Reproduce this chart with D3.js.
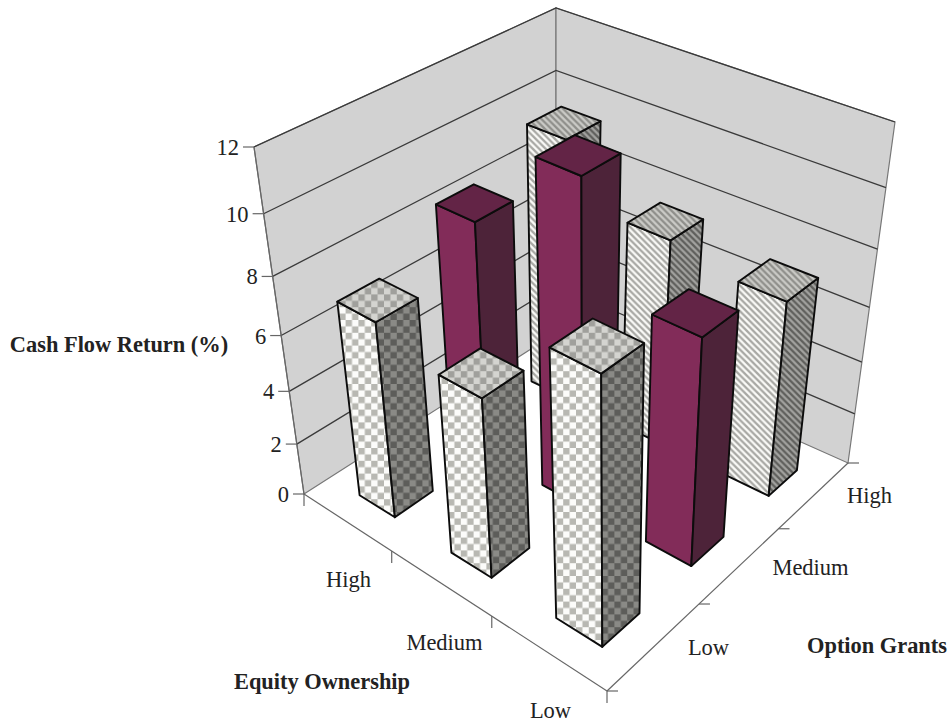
<!DOCTYPE html>
<html><head><meta charset="utf-8">
<style>html,body{margin:0;background:#fff}svg{display:block}text{font-family:"Liberation Serif","Times New Roman",serif;fill:#222}</style>
<script src="https://cdn.jsdelivr.net/npm/d3@7"></script></head>
<body><svg id="c" width="952" height="722"></svg>
<script>
// Chart values
const equityLevels = ["High", "Medium", "Low"];
const optionLevels = ["Low", "Medium", "High"];
const valueTicks = [0, 2, 4, 6, 8, 10, 12];
const lowOptionReturn = [7.2, 6.55, 9.35];
const mediumOptionReturn = [8.6, 11.5, 8.2];
const highOptionReturn = [9.65, 7.7, 7.25];

// Screen anchors of the 3-D box: [equity end, option end] on floor and ceiling planes
const floorFrame = [[304,494],[607,691],[848,463],[556,333]];
const ceilFrame  = [[254,147],[605,320],[895,122],[556,8]];

// Projective map from the unit square to a screen quadrilateral
function quadMap(q){
  const [p0,p1,p2,p3]=q;
  const sx=p0[0]-p1[0]+p2[0]-p3[0], sy=p0[1]-p1[1]+p2[1]-p3[1];
  const ax=p1[0]-p2[0], ay=p1[1]-p2[1], bx=p3[0]-p2[0], by=p3[1]-p2[1];
  const det=ax*by-bx*ay;
  const g=(sx*by-bx*sy)/det, h=(ax*sy-sx*ay)/det;
  return (u,v)=>{
    const d=1+g*u+h*v;
    return [(p0[0]+(p1[0]*(1+g)-p0[0])*u+(p3[0]*(1+h)-p0[0])*v)/d,
            (p0[1]+(p1[1]*(1+g)-p0[1])*u+(p3[1]*(1+h)-p0[1])*v)/d];
  };
}
const floorAt=quadMap(floorFrame), ceilAt=quadMap(ceilFrame);

const u=d3.scaleBand().domain(equityLevels).range([0,1]).paddingInner(0.6).paddingOuter(0.3).align(0.575);
const v=d3.scaleBand().domain(optionLevels).range([0,1]).paddingInner(0.6).paddingOuter(0.3).align(0.45);
const zLinear=d3.scaleLinear().domain([0,12]).range([0,1]);
const depth=1.19;                               // foreshortening of the value axis
const z=val=>{const w=zLinear(val);return w/(w+(1-w)*depth);};

function project(a,b,val){
  const f=floorAt(a,b), c=ceilAt(a,b), t=z(val);
  return [f[0]+(c[0]-f[0])*t, f[1]+(c[1]-f[1])*t];
}
const poly=pts=>"M"+pts.map(p=>p.map(n=>n.toFixed(1)).join(",")).join("L")+"Z";

const svg=d3.select("#c");
const defs=svg.append("defs");

// Fills: a checker, a diagonal hatch, and a solid for each option level, per bar face
function checker(id,bg,fg){
  const s=6.4;
  const p=defs.append("pattern").attr("id",id).attr("patternUnits","userSpaceOnUse").attr("width",2*s).attr("height",2*s);
  p.append("rect").attr("width",2*s).attr("height",2*s).attr("fill",bg);
  p.append("rect").attr("width",s).attr("height",s).attr("fill",fg);
  p.append("rect").attr("x",s).attr("y",s).attr("width",s).attr("height",s).attr("fill",fg);
}
function hatch(id,bg,fg){
  const s=6.4;
  const p=defs.append("pattern").attr("id",id).attr("patternUnits","userSpaceOnUse").attr("width",s).attr("height",s);
  p.append("rect").attr("width",s).attr("height",s).attr("fill",bg);
  p.append("path").attr("d",`M${-s/2},${s/2}L${s/2},${1.5*s}M0,0L${s},${s}M${s/2},${-s/2}L${1.5*s},${s/2}`).attr("stroke",fg).attr("stroke-width",2.3);
}
checker("chkFront","#fcfcfa","#b8b8b2");
checker("chkSide","#8a8a86","#5d5d5a");
checker("chkTop","#d4d4d0","#a0a09c");
hatch("hatFront","#fbfbf8","#a8a8a4");
hatch("hatSide","#a3a3a0","#5f5f5c");
hatch("hatTop","#cbcbc7","#8f8f8b");

const faces={
  Low:{front:"url(#chkFront)",side:"url(#chkSide)",top:"url(#chkTop)"},
  Medium:{front:"#822c59",side:"#4d2339",top:"#632446"},
  High:{front:"url(#hatFront)",side:"url(#hatSide)",top:"url(#hatTop)"}
};

// Walls, drawn behind everything else
const wallFill="#d2d2d2", frameColor="#777";
const g=svg.append("g");
const wallLeft=[project(0,0,0),project(0,1,0),project(0,1,12),project(0,0,12)];
const wallBack=[project(0,1,0),project(1,1,0),project(1,1,12),project(0,1,12)];
g.selectAll("path.wall").data([wallLeft,wallBack]).join("path").attr("class","wall")
  .attr("d",poly).attr("fill",wallFill).attr("stroke",frameColor).attr("stroke-width",1.2);

// Gridlines on both walls
valueTicks.filter(t=>t>0).forEach(t=>{
  const pts=[project(0,0,t),project(0,1,t),project(1,1,t)];
  g.append("path").attr("d",d3.line()(pts)).attr("fill","none").attr("stroke","#3a3a3a").attr("stroke-width",1.3);
});

// Floor axes
const axisColor="#666";
const seg=(a,b)=>g.append("line").attr("x1",a[0]).attr("y1",a[1]).attr("x2",b[0]).attr("y2",b[1]).attr("stroke",axisColor).attr("stroke-width",1.2);
seg(project(0,0,0),project(1,0,0));
seg(project(1,0,0),project(1,1,0));
seg(project(0,0,0),project(0,0,12));
valueTicks.forEach(t=>{const p=project(0,0,t);seg(p,[p[0]-11,p[1]]);});
[0,1,2,3].forEach(i=>{const p=project(i/3,0,0);seg(p,[p[0],p[1]+12]);});
[0,1,2,3].forEach(i=>{const p=project(1,i/3,0);seg(p,[p[0]+11,p[1]]);});

// Bars, painted from the back corner towards the viewer
const rows=[["Low",lowOptionReturn],["Medium",mediumOptionReturn],["High",highOptionReturn]];
const bars=rows.flatMap(([opt,vals])=>vals.map((val,i)=>({opt,eq:equityLevels[i],val})));
bars.sort((a,b)=>(u(a.eq)-v(a.opt))-(u(b.eq)-v(b.opt)));
const barG=svg.append("g");
bars.forEach(d=>{
  const a0=u(d.eq),a1=a0+u.bandwidth(),b0=v(d.opt),b1=b0+v.bandwidth(),h=d.val;
  const front=[project(a0,b0,0),project(a1,b0,0),project(a1,b0,h),project(a0,b0,h)];
  const side=[project(a1,b0,0),project(a1,b1,0),project(a1,b1,h),project(a1,b0,h)];
  const top=[project(a0,b0,h),project(a1,b0,h),project(a1,b1,h),project(a0,b1,h)];
  const f=faces[d.opt];
  [[front,f.front],[side,f.side],[top,f.top]].forEach(([pts,fill])=>{
    barG.append("path").attr("d",poly(pts)).attr("fill",fill).attr("stroke","#0c0c0c").attr("stroke-width",1.9).attr("stroke-linejoin","round");
  });
});

// Text
const label=(x,y,s,opt={})=>svg.append("text").attr("x",x).attr("y",y).attr("text-anchor",opt.anchor||"middle")
  .attr("font-size",opt.size||22.5).attr("font-weight",opt.bold?"bold":"normal").text(s);
valueTicks.forEach(t=>{const p=project(0,0,t);label(p[0]-15,p[1]+8,t,{anchor:"end"});});
const equityLabelPos=[[348.5,587],[444.5,650],[550.5,718]];
equityLevels.forEach((s,i)=>label(equityLabelPos[i][0],equityLabelPos[i][1],s));
const optionLabelPos=[[708.5,655],[810.5,575],[869.5,503]];
optionLevels.forEach((s,i)=>label(optionLabelPos[i][0],optionLabelPos[i][1],s));
label(322,689,"Equity Ownership",{bold:true,size:22.4});
label(877,653,"Option Grants",{bold:true,size:22.4});
label(119,352,"Cash Flow Return (%)",{bold:true,size:22.4});
</script></body></html>
